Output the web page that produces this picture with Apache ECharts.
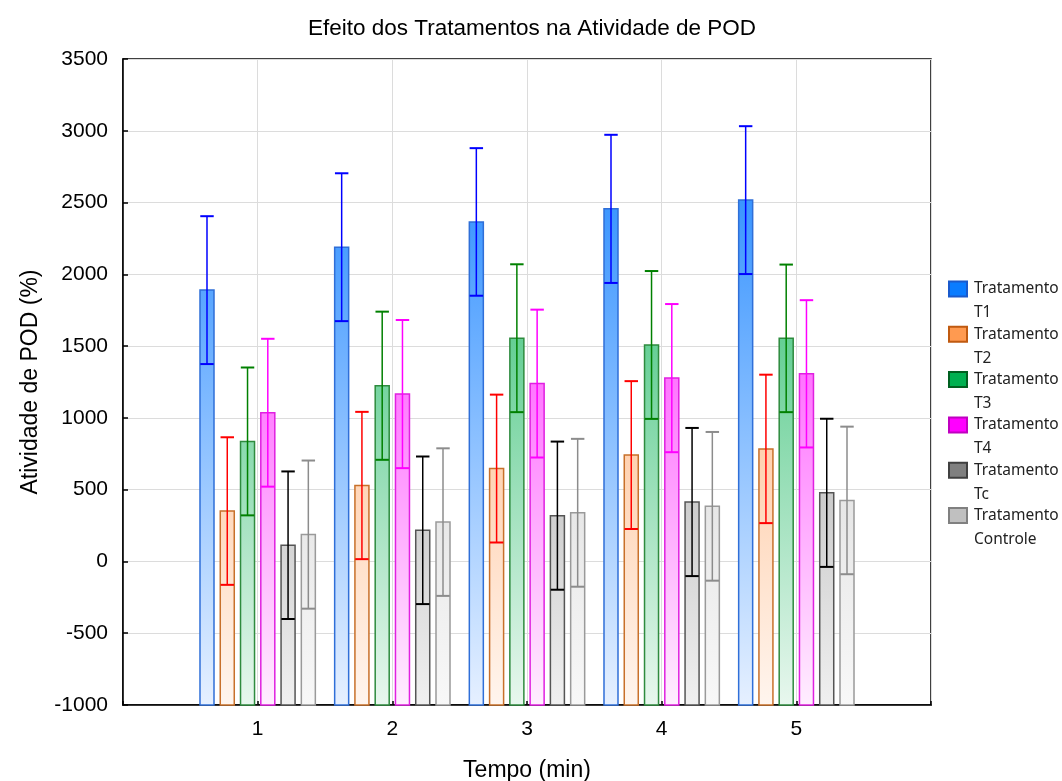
<!DOCTYPE html>
<html>
<head>
<meta charset="utf-8">
<script src="https://cdn.jsdelivr.net/npm/echarts@6/dist/echarts.min.js"></script>
<style>html,body{margin:0;padding:0;background:#fff}#c{width:1062px;height:781px}</style>
</head>
<body>
<div id="c"></div>
<script>
// ---- data ----
const tempos = [1, 2, 3, 4, 5];
const nomes = ['Tratamento T1', 'Tratamento T2', 'Tratamento T3', 'Tratamento T4', 'Tratamento Tc', 'Tratamento Controle'];
const mediaT1 = [1890, 2189, 2365, 2456, 2517];
const mediaT2 = [351, 529, 647, 741, 784];
const mediaT3 = [836, 1224, 1555, 1508, 1554];
const mediaT4 = [1036, 1166, 1239, 1277, 1307];
const mediaTc = [113, 217, 319, 414, 478];
const mediaCtrl = [187, 274, 339, 384, 425];
const erroT1 = [515, 515, 514, 516, 515];
const erroT2 = [514, 513, 515, 515, 517];
const erroT3 = [515, 516, 515, 515, 514];
const erroT4 = [515, 516, 515, 516, 513];
const erroTc = [514, 514, 516, 516, 516];
const erroCtrl = [516, 514, 515, 518, 514];
const yTicks = [-1000, -500, 0, 500, 1000, 1500, 2000, 2500, 3000, 3500];

const medias = [mediaT1, mediaT2, mediaT3, mediaT4, mediaTc, mediaCtrl];
const erros = [erroT1, erroT2, erroT3, erroT4, erroTc, erroCtrl];

// ---- styles ----
const topColors = ['#0a7cff', '#ff9a50', '#00b050', '#ff00ff', '#808080', '#c0c0c0'];
const botColors = ['#e6f0ff', '#fff5ee', '#e8f7ee', '#ffeeff', '#f0f0f0', '#f8f8f8'];
const borderColors = ['#2f6fd8', '#c8702a', '#2e8b3e', '#e020e0', '#555555', '#9a9a9a'];
const errColors = ['#0000ff', '#ff0000', '#008000', '#ff00ff', '#000000', '#8c8c8c'];
const legBorder = ['#1a5acc', '#c05a10', '#006020', '#c000c0', '#404040', '#808080'];

const chart = echarts.init(document.getElementById('c'));

function makeRender(si) {
  return function (params, api) {
    const x = api.value(0), m = api.value(1), e = api.value(2);
    const unit = api.size([1, 0])[0];
    const c = api.coord([x, m]);
    const cx = c[0] + (si - 2.5) * 0.1505 * unit;
    const w = 0.104 * unit;
    const yTop = c[1];
    const yBase = api.coord([x, yTicks[0]])[1];
    const plotTop = api.coord([x, yTicks[yTicks.length - 1]])[1];
    const yHi = api.coord([x, m + e])[1];
    const yLo = api.coord([x, m - e])[1];
    const capW = w * 0.48;
    const grad = new echarts.graphic.LinearGradient(0, plotTop, 0, yBase, [
      { offset: 0, color: topColors[si] },
      { offset: 1, color: botColors[si] }
    ], true);
    const ec = errColors[si];
    return {
      type: 'group',
      children: [
        { type: 'rect', shape: { x: cx - w / 2, y: yTop, width: w, height: yBase - yTop },
          style: { fill: grad, stroke: borderColors[si], lineWidth: 1.5 } },
        { type: 'line', shape: { x1: cx, y1: yHi, x2: cx, y2: yLo }, style: { stroke: ec, lineWidth: 1.5 } },
        { type: 'line', shape: { x1: cx - capW, y1: yHi, x2: cx + capW, y2: yHi }, style: { stroke: ec, lineWidth: 2 } },
        { type: 'line', shape: { x1: cx - capW, y1: yLo, x2: cx + capW, y2: yLo }, style: { stroke: ec, lineWidth: 2 } }
      ]
    };
  };
}

const series = nomes.map((n, si) => ({
  name: n,
  type: 'custom',
  renderItem: makeRender(si),
  itemStyle: { color: topColors[si], borderColor: legBorder[si], borderWidth: 2 },
  encode: { x: 0, y: 1 },
  data: tempos.map((t, k) => [t, medias[si][k], erros[si][k]]),
  z: 3
}));

const option = {
  animation: false,
  backgroundColor: '#fff',
  title: {
    text: 'Efeito dos Tratamentos na Atividade de POD',
    left: 527, textAlign: 'center', top: 12,
    textStyle: { fontFamily: 'Liberation Sans, Arial, sans-serif', fontSize: 22.5, fontWeight: 'normal', color: '#000' }
  },
  legend: {
    orient: 'vertical',
    left: 948, top: 253,
    padding: 0,
    icon: 'rect',
    itemWidth: 18, itemHeight: 15,
    itemGap: -26.7,
    data: nomes.map((n, si) => ({ name: n, itemStyle: { color: topColors[si], borderColor: legBorder[si], borderWidth: 2 } })),
    formatter: n => '\n' + n.replace(' ', '\n'),
    textStyle: { fontFamily: 'Noto Sans, Open Sans, sans-serif', fontSize: 15.5, color: '#222', lineHeight: 24, padding: [0, 0, 0, 2] }
  },
  grid: { left: 123, right: 131, top: 59, bottom: 76, outerBoundsMode: 'none', containLabel: false,
    show: true, borderColor: '#000', borderWidth: 1.5, backgroundColor: 'transparent' },
  xAxis: {
    type: 'value', min: 0, max: 6, interval: 1,
    name: 'Tempo (min)', nameLocation: 'middle', nameGap: 54,
    nameTextStyle: { fontFamily: 'Liberation Sans, Arial, sans-serif', fontSize: 23, color: '#000' },
    axisLine: { show: true, onZero: false, lineStyle: { color: '#000', width: 1.5 } },
    axisTick: { show: true, inside: true, length: 4, lineStyle: { color: '#000', width: 1.5 } },
    axisLabel: { margin: 14, fontFamily: 'Liberation Sans, Arial, sans-serif', fontSize: 21, color: '#000',
      formatter: v => (tempos.indexOf(v) >= 0 ? String(v) : '') },
    splitLine: { show: true, lineStyle: { color: '#dcdcdc', width: 1 } }
  },
  yAxis: {
    type: 'value', min: yTicks[0], max: yTicks[yTicks.length - 1], interval: 500,
    name: 'Atividade de POD (%)', nameLocation: 'middle', nameGap: 81,
    nameTextStyle: { fontFamily: 'Liberation Sans, Arial, sans-serif', fontSize: 23, color: '#000' },
    axisLine: { show: true, onZero: false, lineStyle: { color: '#000', width: 1.5 } },
    axisTick: { show: true, inside: true, length: 5, lineStyle: { color: '#000', width: 1.5 } },
    axisLabel: { margin: 15, fontFamily: 'Liberation Sans, Arial, sans-serif', fontSize: 21, color: '#000',
      formatter: v => String(v) },
    splitLine: { show: true, lineStyle: { color: '#dcdcdc', width: 1 } }
  },
  series: series
};
chart.setOption(option);
</script>
</body>
</html>
